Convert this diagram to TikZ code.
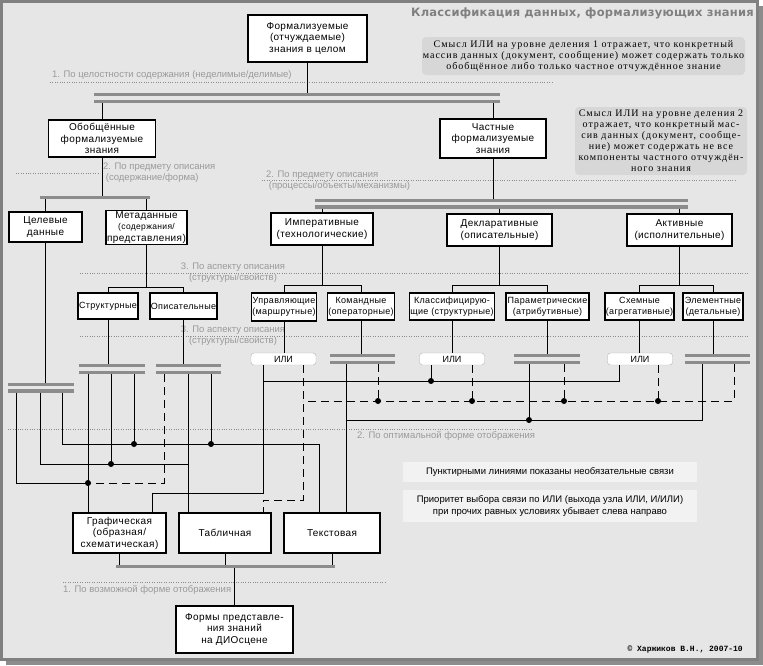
\documentclass[tikz,border=0pt]{standalone}
\usepackage{fontspec}
\setmainfont{Liberation Serif}
\setsansfont{Liberation Sans}
\setmonofont{Liberation Mono}
\newfontfamily\boxfont[LetterSpace=4]{Liberation Sans}
\newfontfamily\notefont[LetterSpace=10]{Liberation Serif}
\newfontfamily\titlefont[LetterSpace=2]{DejaVu Sans}
\usepackage{tikz}
\usetikzlibrary{shapes, arrows.meta, positioning}
\usetikzlibrary{calc}

\definecolor{bg}{HTML}{E6E6E6}
\definecolor{barc}{HTML}{8C8C8C}
\definecolor{labc}{HTML}{9A9A9A}
\definecolor{notec}{HTML}{D7D7D7}
\definecolor{framec}{HTML}{808080}

\begin{document}
\begin{tikzpicture}
  [
    x=1pt, y=-1pt,
    Box/.style={rectangle, draw=black, fill=white, line width=1.3pt, align=center, inner sep=1pt, font=\boxfont\fontsize{10}{11.5}\selectfont},
    Small/.style={Box, font=\boxfont\fontsize{9}{11}\selectfont},
    Ili/.style={rectangle, rounded corners=3pt, draw=black!30, fill=white, minimum width=65, minimum height=12, inner sep=0pt, font=\sffamily\fontsize{9}{10}\selectfont},
    Bar/.style={rectangle, fill=barc, minimum height=3.5, inner sep=0pt, outer sep=0pt},
    Bar2/.style={rectangle, fill=bg, minimum height=10, inner sep=0pt, outer sep=0pt,
      path picture={
        \fill[barc] (path picture bounding box.north west) rectangle ([yshift=-3.3pt]path picture bounding box.north east);
        \fill[barc] (path picture bounding box.south west) rectangle ([yshift=3.3pt]path picture bounding box.south east);
      }},
    Note/.style={rectangle, rounded corners=4pt, fill=notec, align=center, inner sep=0pt, font=\notefont\fontsize{10}{11}\selectfont},
    Hint/.style={rectangle, fill=gray!10, align=center, inner sep=0pt, font=\sffamily\fontsize{9.5}{12}\selectfont},
    Level/.style={draw=black!45, dotted},
    Label/.style={text=labc, inner sep=0pt, font=\sffamily\fontsize{9.5}{11}\selectfont},
    Wire/.style={draw, line width=1pt},
    Opt/.style={Wire, dash pattern=on 8pt off 5pt},
    Dot/.style={circle, fill=black, inner sep=0pt, minimum size=6pt}
  ]
  \useasboundingbox (0,0) rectangle (763,665);

  % Frame
  \fill[white] (0,0) rectangle (763,665);
  \fill[black!45] (6,6) rectangle (763,665);
  \path[fill=bg, draw=framec, line width=3pt] (1.5,1.5) rectangle (757.5,659.5);

  % Levels
  \path[Level] (50,82) -- (552,82);
  \path[Level] (16,173) -- (100,173);
  \path[Level] (262,180) -- (735,180);
  \path[Level] (80,273) -- (748,273);
  \path[Level] (80,336) -- (748,336);
  \path[Level] (8,429) -- (533,429);
  \path[Level] (63,582) -- (385,582);

  \node[Label, anchor=west] (l1) at (52,75) {1. По целостности содержания (неделимые/делимые)};
  \node[Label, anchor=west, align=left] (l2) at (103,173) {2. По предмету описания\\\ (содержание/форма)};
  \node[Label, anchor=west, align=left] (l3) at (266,181) {2. По предмету описания\\\ (процессы/объекты/механизмы)};
  \node[Label, align=center] (l4) at (233,273) {3. По аспекту описания\\(структуры/свойств)};
  \node[Label, align=center] (l5) at (233,336) {3. По аспекту описания\\(структуры/свойств)};
  \node[Label, anchor=west] (l6) at (357,436) {2. По оптимальной форме отображения};
  \node[Label, anchor=west] (l7) at (63,590) {1. По возможной форме отображения};

  % Title and notes
  \node[anchor=east, text=framec, inner sep=0pt, font=\titlefont\bfseries\fontsize{11.5}{13}\selectfont] (t) at (754,13) {Классификация данных, формализующих знания};
  \node[Note, minimum width=323, minimum height=38] (n1) at (583.5,56) {Смысл ИЛИ на уровне деления 1 отражает, что конкретный\\массив данных (документ, сообщение) может содержать только\\обобщённое либо только частное отчуждённое знание};
  \node[Note, minimum width=172, minimum height=68] (n2) at (661,141) {Смысл ИЛИ на уровне деления 2\\отражает, что конкретный мас-\\сив данных (документ, сообще-\\ние) может содержать не все\\компоненты частного отчуждён-\\ного знания};
  \node[Hint, minimum width=294, minimum height=20] (n3) at (550,472) {Пунктирными линиями показаны необязательные связи};
  \node[Hint, minimum width=294, minimum height=32] (n4) at (550,506) {Приоритет выбора связи по ИЛИ (выхода узла ИЛИ, И/ИЛИ)\\при прочих равных условиях убывает слева направо};
  \node[anchor=east, inner sep=0pt, font=\ttfamily\bfseries\fontsize{8}{9}\selectfont] (c) at (743,649) {© Харжиков В.Н., 2007-10};

  % Nodes
  \node[Box, minimum width=119, minimum height=47] (v1) at (307.5,38.5) {Формализуемые\\(отчуждаемые)\\знания в целом};
  \node[Box, minimum width=107, minimum height=37] (v2) at (102,138.5) {Обобщённые\\формализуемые\\знания};
  \node[Box, minimum width=106, minimum height=39] (v3) at (493,138.5) {Частные\\формализуемые\\знания};
  \node[Box, minimum width=73, minimum height=30] (v4) at (45.5,227) {Целевые\\данные};
  \node[Box, minimum width=73, minimum height=31] (v5) at (146.5,227.5) {Метаданные\\\fontsize{8.5}{10}\selectfont(содержания/\\представления)};
  \node[Box, minimum width=102, minimum height=32] (v6) at (322,229) {Императивные\\(технологические)};
  \node[Box, minimum width=105, minimum height=32] (v7) at (499.5,230) {Декларативные\\(описательные)};
  \node[Box, minimum width=105, minimum height=32] (v8) at (679.5,230) {Активные\\(исполнительные)};
  \node[Small, minimum width=60, minimum height=26] (v9) at (108,306) {Структурные};
  \node[Small, minimum width=65, minimum height=26] (v10) at (183.5,306) {Описательные};
  \node[Small, minimum width=64, minimum height=28] (v11) at (284,307) {Управляющие\\(маршрутные)};
  \node[Small, minimum width=66, minimum height=27] (v12) at (361,306.5) {Командные\\(операторные)};
  \node[Small, minimum width=84, minimum height=27] (v13) at (452,306.5) {Классифицирую-\\щие (структурные)};
  \node[Small, minimum width=83, minimum height=27] (v14) at (547.5,306.5) {Параметрические\\(атрибутивные)};
  \node[Small, minimum width=65, minimum height=27] (v15) at (639.5,306.5) {Схемные\\(агрегативные)};
  \node[Small, minimum width=60, minimum height=27] (v16) at (713,306.5) {Элементные\\(детальные)};
  \node[Box, minimum width=93, minimum height=40] (v17) at (119.5,533) {Графическая\\(образная/\\схематическая)};
  \node[Box, minimum width=92, minimum height=40] (v18) at (225,533) {Табличная};
  \node[Box, minimum width=96, minimum height=40] (v19) at (332,533) {Текстовая};
  \node[Box, minimum width=117, minimum height=47] (v20) at (234.5,629.5) {Формы представле-\\ния знаний\\на ДИОсцене};

  \node[Ili] (o1) at (283.5,359) {ИЛИ};
  \node[Ili] (o2) at (452,359) {ИЛИ};
  \node[Ili] (o3) at (640,359) {ИЛИ};

  \node[Bar2, minimum width=406] (b1) at (297,98) {};
  \node[Bar, minimum width=110] (b2) at (95,197.5) {};
  \node[Bar2, minimum width=373] (b3) at (501.5,203.7) {};
  \node[Bar2, minimum width=66] (b4) at (112,369) {};
  \node[Bar2, minimum width=65] (b5) at (188.5,369) {};
  \node[Bar2, minimum width=66] (b6) at (41,387.7) {};
  \node[Bar2, minimum width=65] (b7) at (362.5,359) {};
  \node[Bar2, minimum width=66] (b8) at (547,359) {};
  \node[Bar2, minimum width=65] (b9) at (717.5,359) {};
  \node[Bar, minimum width=219] (b10) at (225.5,566.7) {};

  % Lines
  \path[Wire] (v1.south) -- (v1.south |- b1.north);
  \path[Wire] (b1.south -| v2.north) -- (v2.north);
  \path[Wire] (b1.south -| v3.north) -- (v3.north);
  \path[Wire] (v2.south) -- (v2.south |- b2.north);
  \path[Wire] (b2.south -| v4.north) -- (v4.north);
  \path[Wire] (b2.south -| v5.north) -- (v5.north);
  \path[Wire] (v3.south) -- (v3.south |- b3.north);
  \path[Wire] (b3.south -| v6.north) -- (v6.north);
  \path[Wire] (b3.south -| v7.north) -- (v7.north);
  \path[Wire] (b3.south -| v8.north) -- (v8.north);
  \path[Wire] (v5.south) -- ++(0,42) -| (v9.north);
  \path[Wire] (v5.south) -- ++(0,42) -| (v10.north);
  \path[Wire] (v6.south) -- ++(0,40) -| (v11.north);
  \path[Wire] (v6.south) -- ++(0,40) -| (v12.north);
  \path[Wire] (v7.south) -- ++(0,39) -| (v13.north);
  \path[Wire] (v7.south) -- ++(0,39) -| (v14.north);
  \path[Wire] (v8.south) -- ++(0,39) -| (v15.north);
  \path[Wire] (v8.south) -- ++(0,39) -| (v16.north);
  \path[Wire] (v4.south) -- (v4.south |- b6.north);
  \path[Wire] (v9.south) -- (v9.south |- b4.north);
  \path[Wire] (v10.south) -- (v10.south |- b5.north);
  \path[Wire] (v11.south) -- (v11.south |- o1.north);
  \path[Wire] (v12.south) -- (v12.south |- b7.north);
  \path[Wire] (v13.south) -- (v13.south |- o2.north);
  \path[Wire] (v14.south) -- (v14.south |- b8.north);
  \path[Wire] (v15.south) -- (v15.south |- o3.north);
  \path[Wire] (v16.south) -- (v16.south |- b9.north);
  \path[Wire] (v17.south) -- (v17.south |- b10.north);
  \path[Wire] (v18.south) -- (v18.south |- b10.north);
  \path[Wire] (v19.south) -- (v19.south |- b10.north);
  \path[Wire] (b10.south -| v20.north) -- (v20.north);

  % Junctions
  \coordinate (j1) at (88,483);
  \coordinate (j2) at (111,464);
  \coordinate (j3) at (134,444);
  \coordinate (j4) at (211,444);
  \coordinate (j5) at (431,381);
  \coordinate (j6) at (378,401);
  \coordinate (j7) at (472,401);
  \coordinate (j8) at (564,401);
  \coordinate (j9) at (658,401);
  \coordinate (j10) at (529,420);
  \coordinate (c1) at (188,464);
  \coordinate (c2) at (319,444);
  \coordinate (c3) at (263,381);
  \coordinate (c4) at (152,493);
  \coordinate (c5) at (263,500);
  \coordinate (c6) at (303,401);
  \coordinate (c7) at (346,420);

  % Left side
  \path[Wire] (b6.south -| 16,0) |- (j1);
  \path[Wire] (b4.south -| j1) -- (v17.north -| j1);
  \path[Opt] (b5.south -| 164,0) |- (j1);
  \path[Wire] (b6.south -| 40,0) |- (c1);
  \path[Wire] (b4.south -| j2) -- (j2);
  \path[Wire] (b5.south -| c1) -- (v18.north -| c1);
  \path[Wire] (b6.south -| 62,0) |- (c2) -- (v19.north -| c2);
  \path[Wire] (b4.south -| j3) -- (j3);
  \path[Wire] (b5.south -| j4) -- (j4);

  % Right side
  \path[Wire] (o1.south -| c3) |- (c4) -- (v17.north -| c4);
  \path[Wire] (o3.south -| 619,0) |- (c3);
  \path[Wire] (o2.south -| j5) -- (j5);
  \path[Opt] (o1.south -| c6) |- (c5) -- (v18.north -| c5);
  \path[Opt] (b9.south -| 734,0) |- (c6);
  \path[Opt] (b7.south -| j6) -- (j6);
  \path[Opt] (o2.south -| j7) -- (j7);
  \path[Opt] (b8.south -| j8) -- (j8);
  \path[Opt] (o3.south -| j9) -- (j9);
  \path[Wire] (b7.south -| c7) -- (v19.north -| c7);
  \path[Wire] (b9.south -| 702,0) |- (c7);
  \path[Wire] (b8.south -| j10) -- (j10);

  \foreach \j in {1,...,10}
    \node[Dot] (d\j) at (j\j) {};

\end{tikzpicture}
\end{document}
